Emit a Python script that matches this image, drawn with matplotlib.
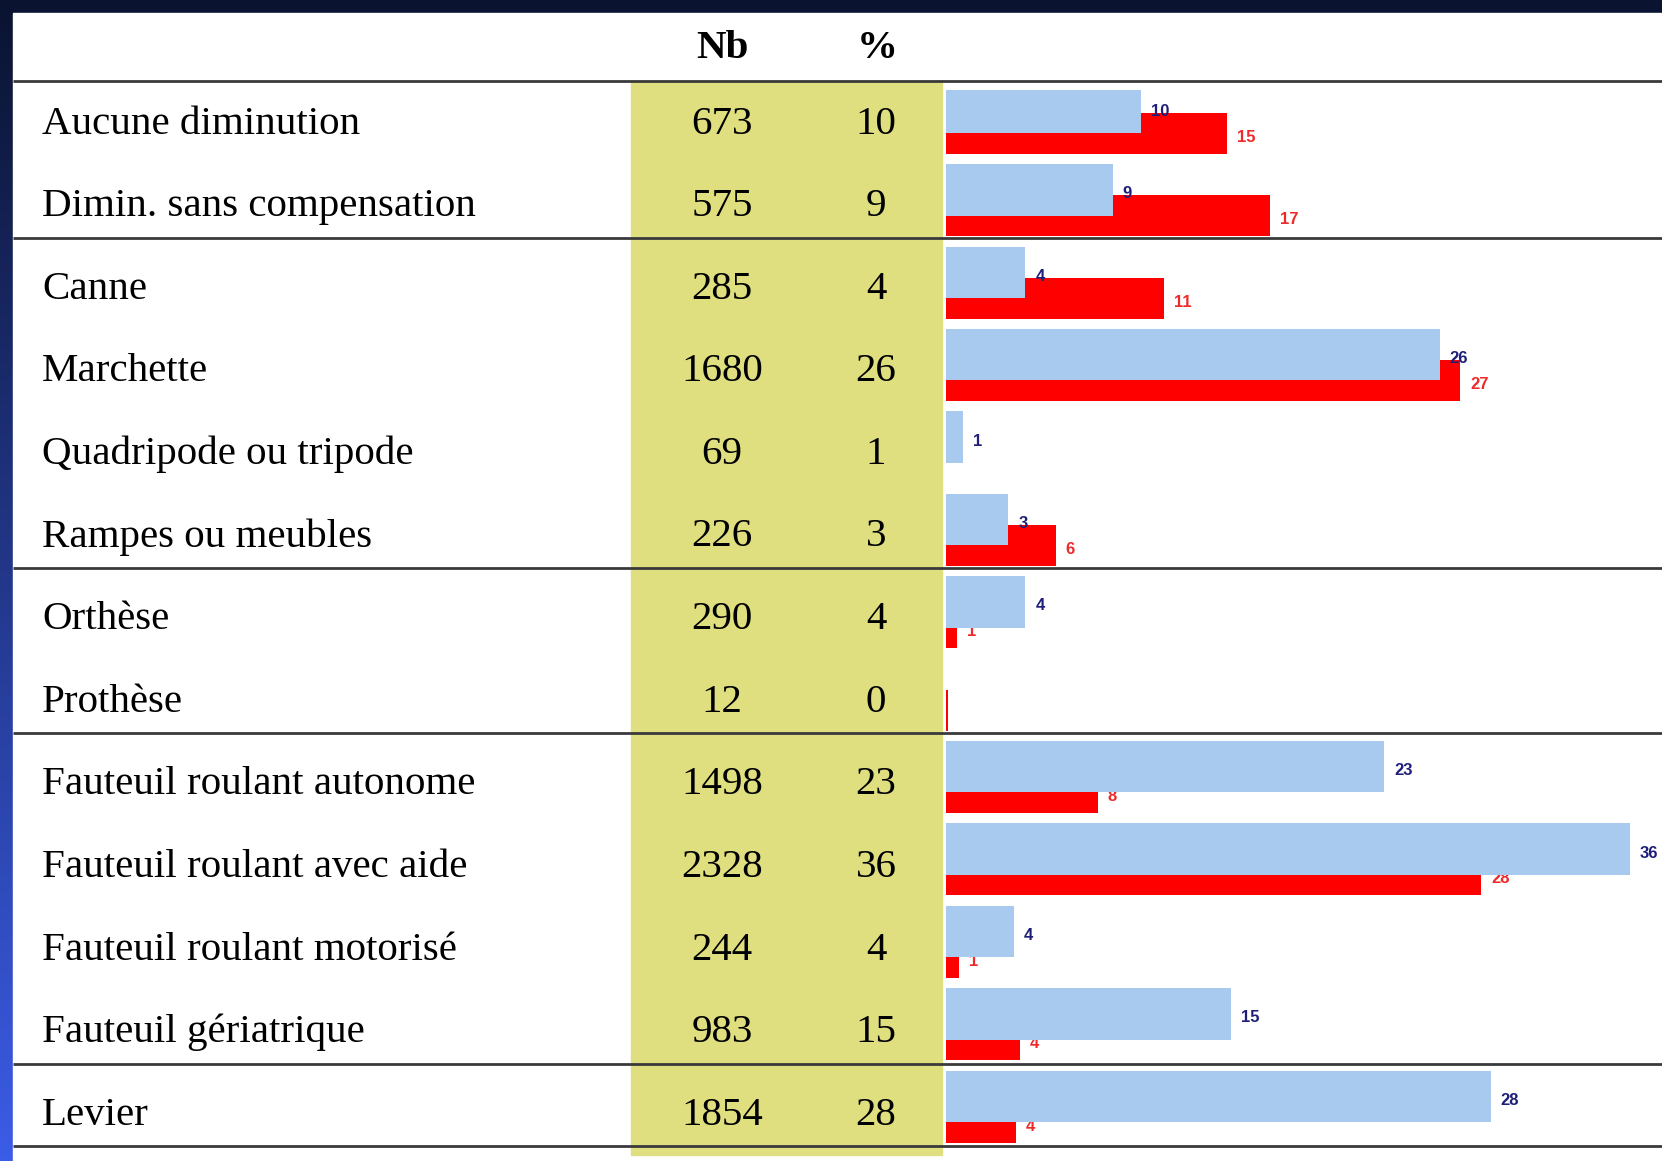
import matplotlib
matplotlib.use('Agg')
import matplotlib.pyplot as plt
import numpy as np
from matplotlib.colors import LinearSegmentedColormap
from matplotlib.patches import Rectangle

# Table data
categories = ['Aucune diminution', 'Dimin. sans compensation', 'Canne', 'Marchette',
              'Quadripode ou tripode', 'Rampes ou meubles', 'Orthèse', 'Prothèse',
              'Fauteuil roulant autonome', 'Fauteuil roulant avec aide',
              'Fauteuil roulant motorisé', 'Fauteuil gériatrique', 'Levier']
nb = [673, 575, 285, 1680, 69, 226, 290, 12, 1498, 2328, 244, 983, 1854]
pct = [10, 9, 4, 26, 1, 3, 4, 0, 23, 36, 4, 15, 28]

# Bar values
blue_vals = [10.3, 8.8, 4.2, 26.0, 0.9, 3.3, 4.2, 0, 23.1, 36.0, 3.6, 15.0, 28.7]
red_vals = [14.8, 17.1, 11.5, 27.1, 0, 5.8, 0.6, 0.15, 8.0, 28.2, 0.7, 3.9, 3.7]
blue_labels = ['10', '9', '4', '26', '1', '3', '4', '', '23', '36', '4', '15', '28']
red_labels = ['15', '17', '11', '27', '', '6', '1', '', '8', '28', '1', '4', '4']

# separator lines come after these rows
group_ends = [2, 6, 8, 12, 13]

W, H = 1662, 1161
fig = plt.figure(figsize=(W / 100, H / 100), dpi=100)

# background gradient + white panel
bg = fig.add_axes([0, 0, 1, 1])
bg.set_xlim(0, W)
bg.set_ylim(H, 0)
bg.axis('off')
grad = np.linspace(0, 1, 256).reshape(-1, 1)
cmap = LinearSegmentedColormap.from_list('bg', ['#0a1330', '#3b5ce6'])
bg.imshow(grad, cmap=cmap, extent=(0, W, H, 0), aspect='auto', zorder=0)
bg.add_patch(Rectangle((12.5, 13), W, H, color='white', zorder=1))
bg.add_patch(Rectangle((631, 81), 942 - 631, 1155 - 81, color='#dfdf80', zorder=2))

row_y = [120 + 82.6 * i for i in range(len(categories))]

serif = 'Liberation Serif'
bg.text(722, 57.5, 'Nb', fontsize=29.5, family=serif, fontweight='bold', ha='center', va='baseline', zorder=3)
bg.text(877, 57.5, '%', fontsize=29.5, family=serif, fontweight='bold', ha='center', va='baseline', zorder=3)
for y, cat, n, p in zip(row_y, categories, nb, pct):
    bg.text(42, y + 13.5, cat, fontsize=29.5, family=serif, va='baseline', zorder=3)
    bg.text(722, y + 13.5, str(n), fontsize=29.5, family=serif, ha='center', va='baseline', zorder=3)
    bg.text(876, y + 13.5, str(p), fontsize=29.5, family=serif, ha='center', va='baseline', zorder=3)

# bar chart part
x0 = 945.5
px_per_unit = 19.0
ax = fig.add_axes([x0 / W, 0, 1 - x0 / W, (H - 90) / H])
ax.set_xlim(0, (W - x0) / px_per_unit)
ax.set_ylim(H, 90)
ax.axis('off')
ax.patch.set_alpha(0)

bar_top = np.array([81.8 + 82.4 * i for i in range(len(categories))])
red_y = bar_top + 51.5
blue_y = bar_top + 25.75

ax.barh(red_y, red_vals, height=41, color='#ff0000', zorder=1)
for v, y, lbl in zip(red_vals, red_y, red_labels):
    if lbl:
        ax.annotate(lbl, (v, y + 4), xytext=(7.2, 0), textcoords='offset points',
                    fontsize=12, fontweight='bold', color='#ee2a2a', va='center', ha='left',
                    family='Liberation Sans', zorder=2)
ax.barh(blue_y, blue_vals, height=51.5, color='#a8caee', zorder=3)
for v, y, lbl in zip(blue_vals, blue_y, blue_labels):
    if lbl:
        ax.annotate(lbl, (v, y + 4), xytext=(7.2, 0), textcoords='offset points',
                    fontsize=12, fontweight='bold', color='#1f1f7a', va='center', ha='left',
                    family='Liberation Sans', zorder=4, annotation_clip=False)

# horizontal separator lines on top
top = fig.add_axes([0, 0, 1, 1])
top.set_xlim(0, W)
top.set_ylim(H, 0)
top.axis('off')
top.patch.set_alpha(0)
line_y = [80.5] + [row_y[g - 1] + 35 for g in group_ends]
top.hlines(line_y, 12.5, W, color='#3a3a3a', lw=2)

fig.savefig('out.png', dpi=100)
